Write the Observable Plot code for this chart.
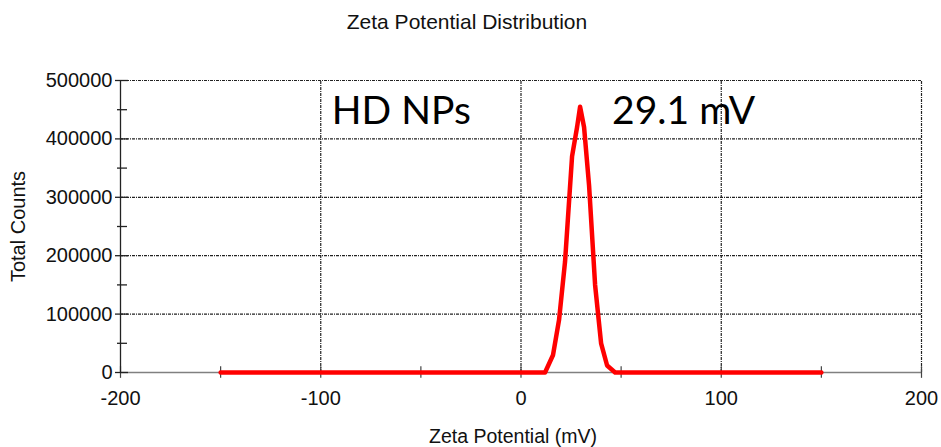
<!DOCTYPE html>
<html>
<head>
<meta charset="utf-8">
<script src="https://cdn.jsdelivr.net/npm/d3@7"></script>
<script src="https://cdn.jsdelivr.net/npm/@observablehq/plot@0.6"></script>
<style>
  html, body { margin: 0; padding: 0; background: #fff; }
  #chart svg { display: block; }
</style>
</head>
<body>
<div id="chart"></div>
<script>
// Zeta potential (mV) and total counts
const zeta   = [-150, 10, 12, 16, 19, 22, 25.5, 28, 29.5, 31.5, 34, 37, 40, 43, 47, 150];
const counts = [0, 0, 0, 30000, 90000, 190000, 370000, 420000, 455000, 420000, 320000, 150000, 50000, 12000, 0, 0];
const xTicks = [-200, -100, 0, 100, 200];
const xMinorTicks = [-200, -150, -100, -50, 0, 50, 100, 150, 200];
const yTicks = [0, 100000, 200000, 300000, 400000, 500000];
const yMinorTicks = [50000, 150000, 250000, 350000, 450000];
const yGrid = [100000, 200000, 300000, 400000, 500000];
const xGrid = [-100, 0, 100, 200];
const title = "Zeta Potential Distribution";
const xLabel = "Zeta Potential (mV)";
const yLabel = "Total Counts";
const notes = [{x: -94.5, y: 447000, text: "HD NPs"}, {x: 45.5, y: 447000, text: "29.1 mV"}];

const data = zeta.map((z, i) => ({z, c: counts[i]}));
const dash = "3,1,1,1";
const font = "Liberation Sans, Arial, sans-serif";

const plot = Plot.plot({
  width: 941,
  height: 447,
  marginLeft: 120,
  marginRight: 20,
  marginTop: 80,
  marginBottom: 75,
  style: {fontFamily: font, fontSize: "20px", color: "#111", background: "#fff"},
  x: {domain: [-200, 200]},
  y: {domain: [0, 500000]},
  marks: [
    // dotted grid
    Plot.ruleY(yGrid, {x1: -200, x2: 200, stroke: "#222", strokeDasharray: dash, strokeWidth: 1.2}),
    Plot.ruleX(xGrid, {y1: 0, y2: 500000, stroke: "#222", strokeDasharray: dash, strokeWidth: 1.2}),
    // x baseline (gray) with ticks crossing it
    Plot.ruleY([0], {x1: -200, x2: 200, stroke: "#808080", strokeWidth: 1.6}),
    Plot.ruleX(xMinorTicks, {y1: -10000, y2: 10000, stroke: "#444", strokeWidth: 1.2}),
    // y axis line with crossing ticks
    Plot.ruleX([-200], {y1: 0, y2: 500000, stroke: "#222", strokeWidth: 1.3}),
    Plot.ruleY(yTicks, {x1: -202.5, x2: -196, stroke: "#222", strokeWidth: 1.3}),
    Plot.ruleY(yMinorTicks, {x1: -201.5, x2: -196.5, stroke: "#222", strokeWidth: 1.3}),
    // axes labels
    Plot.axisX(xTicks, {anchor: "bottom", tickSize: 0, tickPadding: 18, fontSize: 20, label: null, tickFormat: d => String(d)}),
    Plot.axisY(yTicks, {anchor: "left", tickSize: 0, tickPadding: 8, fontSize: 20, label: null, tickFormat: d => String(d)}),
    // data line
    Plot.line(data, {x: "z", y: "c", stroke: "#ff0000", strokeWidth: 4.5, strokeLinejoin: "round"}),
    // annotations
    Plot.text(notes, {x: "x", y: "y", text: "text", textAnchor: "start", lineAnchor: "middle", fontSize: 39, fontFamily: "Lato, Carlito, sans-serif", fill: "#000"}),
    // titles
    Plot.text([title], {frameAnchor: "top", dx: -54, dy: -58, fontSize: 21, fill: "#111", lineAnchor: "middle"}),
    Plot.text([xLabel], {frameAnchor: "bottom", dx: -8, dy: 64, fontSize: 19.5, fill: "#111", lineAnchor: "middle"}),
    Plot.text([yLabel], {frameAnchor: "left", dx: -102, rotate: -90, textAnchor: "middle", fontSize: 20, fill: "#111", lineAnchor: "middle"})
  ]
});
document.getElementById("chart").append(plot);
</script>
</body>
</html>
